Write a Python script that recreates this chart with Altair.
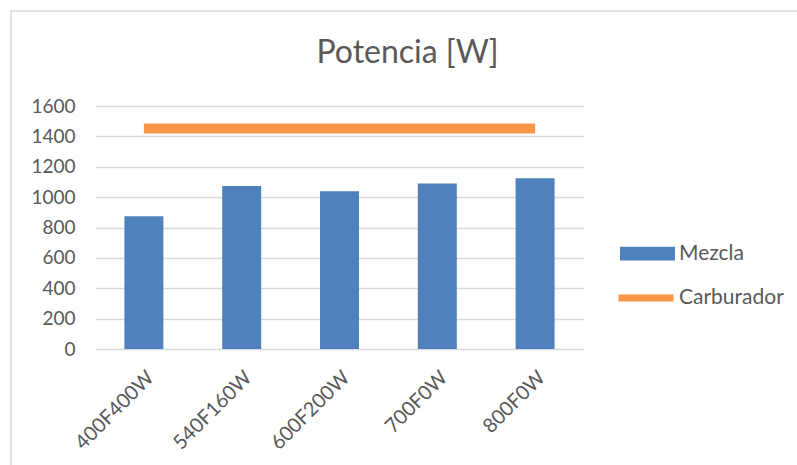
import altair as alt
import pandas as pd

# Ensayos (mezcla de combustibles) y potencia medida
ensayos = ["400F400W", "540F160W", "600F200W", "700F0W", "800F0W"]
mezcla = [874, 1074, 1039, 1089, 1125]
carburador = [1452, 1452, 1452, 1452, 1452]
ticks_y = [0, 200, 400, 600, 800, 1000, 1200, 1400, 1600]

AZUL = "#4f81bd"
NARANJA = "#f79646"
GRIS_TEXTO = "#595959"
GRIS_REJILLA = "#d9d9d9"
FUENTE = "Lato"

df = pd.DataFrame({"ensayo": ensayos, "Mezcla": mezcla, "Carburador": carburador})

W, H = 489, 243

x_enc = alt.X(
    "ensayo:N",
    sort=ensayos,
    title=None,
    scale=alt.Scale(paddingInner=0, paddingOuter=0),
    axis=alt.Axis(
        labelAngle=-45,
        labelFontSize=20,
        labelFont=FUENTE,
        labelColor=GRIS_TEXTO,
        labelPadding=18,
        ticks=False,
        tickSize=0,
        domain=False,
        grid=False,
    ),
)

y_scale = alt.Scale(domain=[0, 1600], nice=False, zero=True)
eje_y = alt.Axis(
    values=ticks_y,
    format="d",
    labelOverlap=False,
    labelFontSize=19,
    labelFont=FUENTE,
    labelColor=GRIS_TEXTO,
    labelPadding=20,
    ticks=False,
    tickSize=0,
    domain=False,
    grid=True,
    gridColor=GRIS_REJILLA,
    gridWidth=1.5,
)

barras = (
    alt.Chart(df)
    .transform_calculate(serie="'Mezcla'")
    .mark_bar(size=39)
    .encode(
        x=x_enc,
        y=alt.Y("Mezcla:Q", title=None, scale=y_scale, axis=eje_y),
        fill=alt.Fill(
            "serie:N",
            scale=alt.Scale(domain=["Mezcla"], range=[AZUL]),
            legend=alt.Legend(
                title=None,
                orient="none",
                legendX=525,
                legendY=120,
                padding=0,
                symbolType="M-1,-0.25H1V0.25H-1Z",
                symbolSize=3025,
                symbolStrokeWidth=0,
                labelFont=FUENTE,
                labelFontSize=21,
                labelColor=GRIS_TEXTO,
                labelOffset=4,
            ),
        ),
    )
)

linea = (
    alt.Chart(df)
    .transform_calculate(serie="'Carburador'")
    .mark_line(strokeWidth=10, strokeCap="butt")
    .encode(
        x=alt.X("ensayo:N", sort=ensayos),
        y=alt.Y("Carburador:Q", title=None, scale=y_scale, axis=eje_y),
        stroke=alt.Stroke(
            "serie:N",
            scale=alt.Scale(domain=["Carburador"], range=[NARANJA]),
            legend=alt.Legend(
                title=None,
                orient="none",
                legendX=520,
                legendY=161,
                padding=0,
                symbolType="stroke",
                symbolSize=3025,
                symbolStrokeWidth=7,
                labelFont=FUENTE,
                labelFontSize=21,
                labelColor=GRIS_TEXTO,
                labelOffset=2,
            ),
        ),
    )
)

# Marco del área del gráfico
marco = (
    alt.Chart(pd.DataFrame({"k": [0]}))
    .mark_rect(fill="transparent", stroke=GRIS_REJILLA, strokeWidth=1.5)
    .encode(
        x=alt.value(-84),
        x2=alt.value(W + 260),
        y=alt.value(-95),
        y2=alt.value(H + 150),
    )
)

chart = (
    alt.layer(marco, barras, linea)
    .resolve_scale(fill="independent", stroke="independent")
    .properties(
        width=W,
        height=H,
        title=alt.Title(
            "Potencia [W]",
            font=FUENTE,
            fontSize=32,
            fontWeight="normal",
            color=GRIS_TEXTO,
            anchor="middle",
            baseline="alphabetic",
            offset=0,
            dx=68,
            dy=85,
        ),
        autosize=alt.AutoSizeParams(type="none"),
        padding={"left": 95, "top": 106, "right": 797 - 95 - W, "bottom": 465 - 106 - H},
        background="white",
    )
    .configure_view(stroke=None)
)

chart.save("out.html", embed_options={"renderer": "svg", "actions": False})
